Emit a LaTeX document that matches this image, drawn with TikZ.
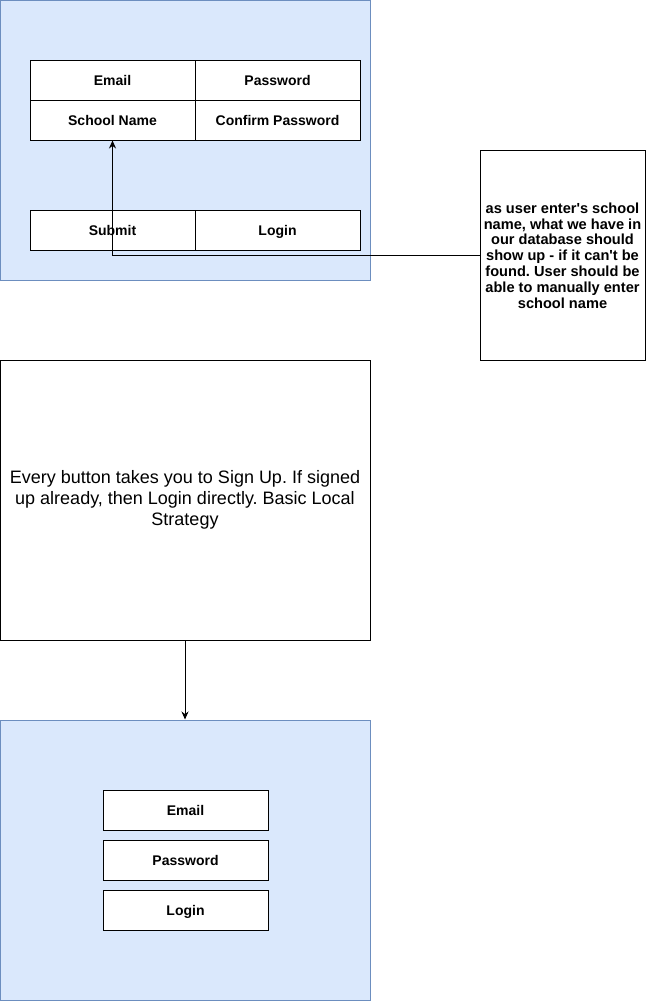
\documentclass[tikz,border=0pt]{standalone}
\usepackage{fontspec}
\setmainfont{Liberation Sans}
\usetikzlibrary{arrows.meta}
\definecolor{bluefill}{HTML}{DAE8FC}
\definecolor{bluestroke}{HTML}{6C8EBF}
\frenchspacing
\begin{document}
\begin{tikzpicture}[x=1pt,y=-1pt,
  container/.style={draw=bluestroke,fill=bluefill,line width=1pt,minimum width=370pt,minimum height=280pt,inner sep=0pt},
  field/.style={draw=black,fill=white,line width=1pt,minimum width=165pt,minimum height=40pt,inner sep=0pt,text height=10pt,text depth=0pt,font=\fontsize{14pt}{16pt}\selectfont\bfseries},
  plainbox/.style={draw=black,fill=white,line width=1pt,inner sep=0pt,align=center},
  conn/.style={draw=black,line width=1pt,-{Stealth[length=8pt,width=7pt]}}]
\useasboundingbox (0,0) rectangle (646,1001);
% top screen
\node[container] (top) at (185,140) {};
\node[field] (email1) at (112.5,80) {Email};
\node[field] (pass1) at (277.5,80) {Password};
\node[field] (school) at (112.5,120) {School Name};
\node[field] (confirm) at (277.5,120) {Confirm Password};
\node[field] (submit) at (112.5,230) {Submit};
\node[field] (login1) at (277.5,230) {Login};
% note
\node[plainbox,minimum width=165pt,minimum height=210pt,font=\fontsize{14.6pt}{15.8pt}\selectfont\bfseries] (note) at (562.5,255.5)
 {as user enter\textquotesingle s school\\name, what we have in\\our database should\\show up - if it can\textquotesingle t be\\found. User should be\\able to manually enter\\school name};
% middle box
\node[plainbox,minimum width=370pt,minimum height=280pt,font=\fontsize{18pt}{21pt}\selectfont] (mid) at (185,500)
 {Every button takes you to Sign Up. If signed\\up already, then Login directly. Basic Local\\Strategy};
% bottom screen
\node[container] (bottom) at (185,860) {};
\node[field] (email2) at (185.5,810) {Email};
\node[field] (pass2) at (185.5,860) {Password};
\node[field] (login2) at (185.5,910) {Login};
% connectors
\draw[conn] (note.west) -| (school.south);
\draw[conn] (mid.south) -- (bottom.north);
\end{tikzpicture}
\end{document}
